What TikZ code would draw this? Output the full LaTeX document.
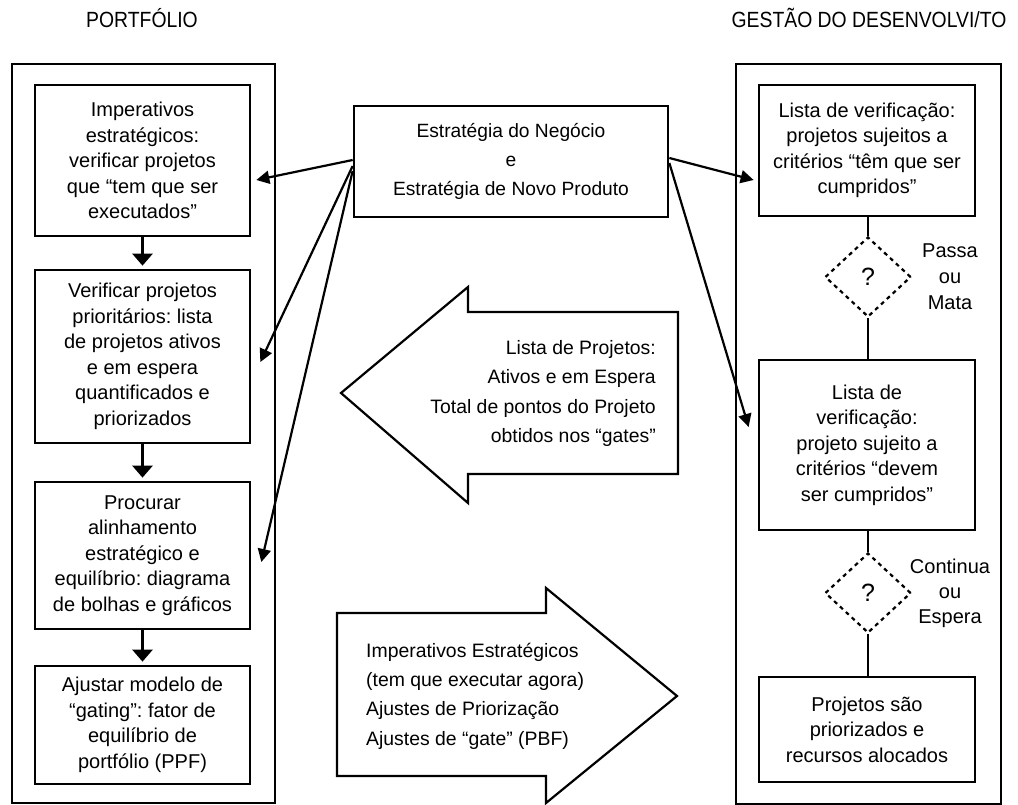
\documentclass[tikz,border=0pt]{standalone}
\usepackage{fontspec}
\setmainfont{Liberation Sans}
\newfontfamily\hdrfont{Liberation Sans}[FakeStretch=0.88]
\usetikzlibrary{arrows.meta,shapes.geometric}
\frenchspacing
\begin{document}
\begin{tikzpicture}[x=1pt,y=-1pt,
  outerbox/.style={draw, line width=2.7pt},
  stepbox/.style={draw, line width=2.7pt, inner sep=0pt, align=center,
    font=\fontsize{20}{25.5}\selectfont},
  bodytxt/.style={inner sep=0pt, font=\fontsize{19.4}{29.3}\selectfont},
  hdr/.style={inner sep=0pt, anchor=base, font=\hdrfont\fontsize{22}{26}\selectfont},
  conn/.style={line width=2.2pt, -{Triangle[length=13pt,width=13pt]}},
  downarr/.style={line width=2.7pt, -{Triangle[length=12pt,width=20pt]}, shorten >=3pt},
  plainline/.style={line width=2.7pt},
  gate/.style={draw, diamond, dash pattern=on 4pt off 4pt, line width=2.2pt,
    minimum width=86pt, minimum height=80pt, inner sep=0pt,
    font=\fontsize{25}{25}\selectfont},
  bigarrow/.style={draw, line width=2.2pt, line join=miter}
]
\useasboundingbox (0,0) rectangle (1018,805);

% headers
\node[hdr] (hL) at (142,28) {PORTFÓLIO};
\node[hdr] (hR) at (869,28) {GESTÃO DO DESENVOLVI/TO};

% outer frames
\draw[outerbox] (12,64) rectangle (275,803);
\draw[outerbox] (736,64) rectangle (1001,804);

% left column
\node[stepbox, minimum width=215pt, minimum height=151pt] (b1) at (142.5,160.5)
  {Imperativos\\estratégicos:\\verificar projetos\\que “tem que ser\\executados”};
\node[stepbox, minimum width=215pt, minimum height=173pt] (b2) at (142.5,356.5)
  {Verificar projetos\\prioritários: lista\\de projetos ativos\\e em espera\\quantificados e\\priorizados};
\node[stepbox, minimum width=215pt, minimum height=147pt] (b3) at (142.5,555.5)
  {Procurar\\alinhamento\\estratégico e\\equilíbrio: diagrama\\de bolhas e gráficos};
\node[stepbox, minimum width=215pt, minimum height=118pt] (b4) at (142.5,725)
  {Ajustar modelo de\\“gating”: fator de\\equilíbrio de\\portfólio (PPF)};

\draw[downarr] (b1.south) -- (b2.north);
\draw[downarr] (b2.south) -- (b3.north);
\draw[downarr] (b3.south) -- (b4.north);

% center box
\node[stepbox, font=\fontsize{19.2}{29}\selectfont, minimum width=314pt, minimum height=111pt] (strat) at (511,161.5)
  {Estratégia do Negócio\\e\\Estratégia de Novo Produto};

% right column
\node[stepbox, minimum width=216pt, minimum height=131pt] (r1) at (867,150.5)
  {Lista de verificação:\\projetos sujeitos a\\critérios “têm que ser\\cumpridos”};
\node[gate] (d1) at (868,277) {?};
\node[stepbox, minimum width=216pt, minimum height=170pt] (r2) at (867,445)
  {Lista de\\verificação:\\projeto sujeito a\\critérios “devem\\ser cumpridos”};
\node[gate] (d2) at (868,593) {?};
\node[stepbox, minimum width=216pt, minimum height=105pt] (r3) at (867,729.5)
  {Projetos são\\priorizados e\\recursos alocados};

\draw[plainline] (r1.south -| d1.north) -- (d1.north);
\draw[plainline] (d1.south) -- (r2.north -| d1.south);
\draw[plainline] (r2.south -| d2.north) -- (d2.north);
\draw[plainline] (d2.south) -- (r3.north -| d2.south);

\node[inner sep=0pt, align=center, font=\fontsize{20}{26}\selectfont] (lblA) at (950,277) {Passa\\ou\\Mata};
\node[inner sep=0pt, align=center, font=\fontsize{20}{25}\selectfont] (lblB) at (950,593) {Continua\\ou\\Espera};

% connectors from strategy box
\draw[conn] ([yshift=1.5pt]strat.west) -- ([xshift=5pt,yshift=-19.5pt]b1.east);
\draw[conn] ([yshift=-4.5pt]strat.west) -- ([xshift=9pt,yshift=-5.5pt]b2.east);
\draw[conn] ([yshift=-9.5pt]strat.west) -- ([xshift=10pt,yshift=-6.5pt]b3.east);
\draw[conn] ([yshift=3.5pt]strat.east) -- ([xshift=-4pt,yshift=-29.5pt]r1.west);
\draw[conn] ([yshift=-1.5pt]strat.east) -- ([xshift=-9pt,yshift=18pt]r2.west);

% big left arrow
\draw[bigarrow] (341,393) -- (468,287) -- (468,312) -- (678,312) -- (678,474)
  -- (468,474) -- (468,503) -- cycle;
\node[bodytxt, align=right, anchor=east] (lista) at (656,393.5)
  {Lista de Projetos:\\Ativos e em Espera\\Total de pontos do Projeto\\obtidos nos “gates”};

% big right arrow
\draw[bigarrow] (677,696) -- (546,588) -- (546,613) -- (337,613) -- (337,776)
  -- (546,776) -- (546,803) -- cycle;
\node[bodytxt, align=left, anchor=west] (imper) at (366,696)
  {Imperativos Estratégicos\\(tem que executar agora)\\Ajustes de Priorização\\Ajustes de “gate” (PBF)};
\end{tikzpicture}
\end{document}
